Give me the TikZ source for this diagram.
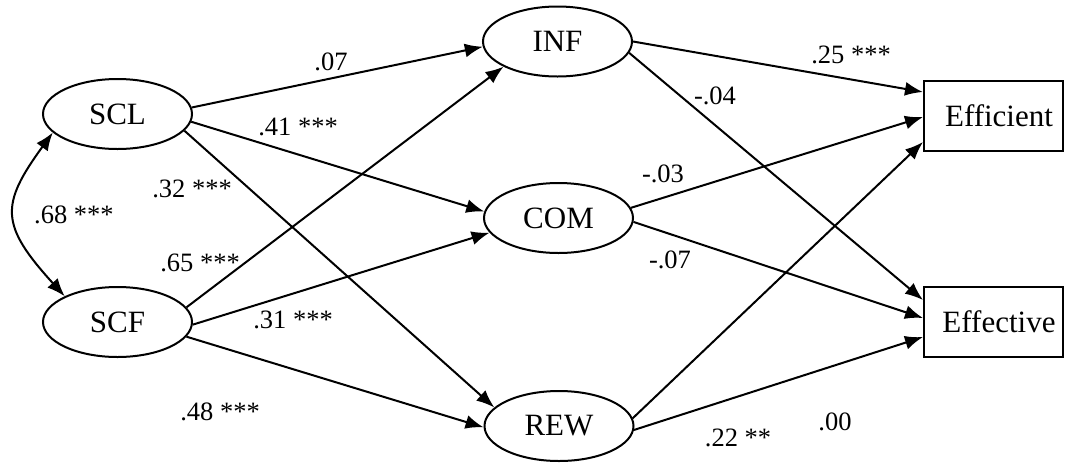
\documentclass[tikz,border=0pt]{standalone}
\usepackage{fontspec}
\setmainfont{Liberation Serif}
\usetikzlibrary{shapes.geometric,arrows.meta,calc}
\tikzset{
  lat/.style={ellipse,draw,line width=2pt,minimum width=149pt,minimum height=70pt,inner sep=0pt,font=\fontsize{31}{35}\selectfont},
  obs/.style={rectangle,draw,line width=2pt,minimum width=139pt,minimum height=70pt,inner sep=0pt},
  obstext/.style={inner sep=0pt,font=\fontsize{31}{35}\selectfont},
  path/.style={line width=2pt,-{Latex[length=18pt,width=14pt]}},
  cov/.style={line width=2pt,{Latex[length=18pt,width=14pt]}-{Latex[length=18pt,width=14pt]}},
  lab/.style={inner sep=0pt,font=\fontsize{26.5}{30}\selectfont}
}
\begin{document}
\begin{tikzpicture}[x=1pt,y=-1pt]
\useasboundingbox (0,0) rectangle (1066,464);
% latent variables
\node[lat] (SCL) at (117.5,114) {SCL};
\node[lat] (SCF) at (117.5,322) {SCF};
\node[lat] (INF) at (557.5,41.5) {INF};
\node[lat] (COM) at (558.5,218) {COM};
\node[lat] (REW) at (559,426) {REW};
% observed
\node[obs] (EFI) at (993.5,116) {};
\node[obstext] (EFIt) at (999,116) {Efficient};
\node[obs] (EFE) at (993.5,322) {};
\node[obstext] (EFEt) at (999,322) {Effective};
% paths
\draw[path] (SCL.5) -- (INF.184);
\draw[path] (SCL.-6) -- (COM.175.5);
\draw[path] (SCL.-14) -- (REW.164.6);
\draw[path] (SCF.12.5) -- (INF.205);
\draw[path] (SCF.-2) -- (COM.192.4);
\draw[path] (SCF.-12.5) -- (REW.181);
\draw[path] (INF.0) -- ($(EFI.west)+(0,-24)$);
\draw[path] (INF.-9.3) -- ($(EFE.west)+(0,-22)$);
\draw[path] (COM.8.9) -- ($(EFI.west)+(0,1)$);
\draw[path] (COM.-3) -- ($(EFE.west)+(0,-4)$);
\draw[path] (REW.6.2) -- ($(EFI.west)+(0,26)$);
\draw[path] (REW.-3.2) -- ($(EFE.west)+(0,15)$);
% covariance
\draw[cov] (SCL.196) .. controls (0,205) and (0,225) .. (SCF.154.5);
% labels
\node[lab] (l1) at (331,62) {.07};
\node[lab] (l2) at (298,127) {.41 ***};
\node[lab] (l3) at (192,189) {.32 ***};
\node[lab] (l4) at (74,215) {.68 ***};
\node[lab] (l5) at (200,263) {.65 ***};
\node[lab] (l6) at (293,320) {.31 ***};
\node[lab] (l7) at (220,412) {.48 ***};
\node[lab] (l8) at (851,55) {.25 ***};
\node[lab] (l9) at (715,96) {-.04};
\node[lab] (l10) at (663,174) {-.03};
\node[lab] (l11) at (670,260) {-.07};
\node[lab] (l12) at (738,438) {.22 **};
\node[lab] (l13) at (835,422) {.00};
\end{tikzpicture}
\end{document}
